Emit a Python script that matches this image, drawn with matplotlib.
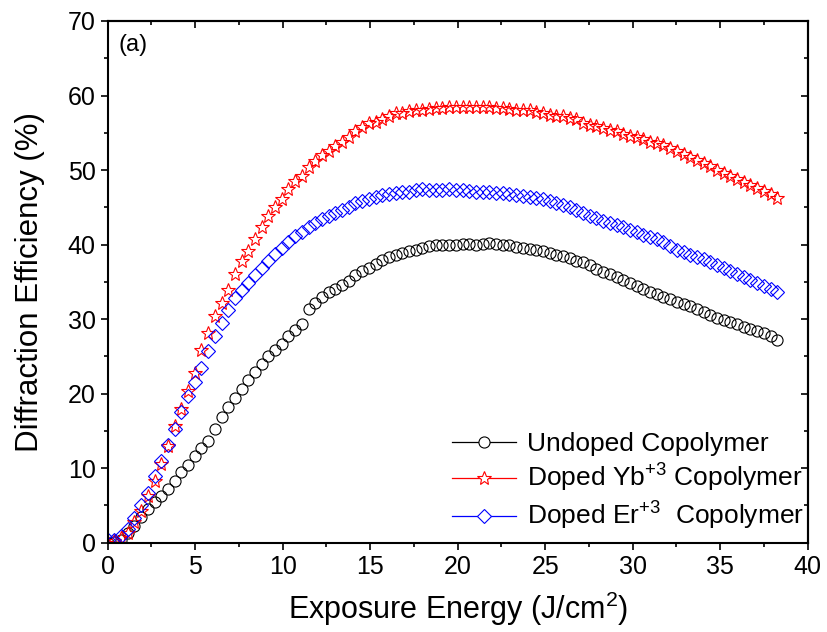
import matplotlib
matplotlib.use('Agg')
import matplotlib.pyplot as plt
from matplotlib.ticker import MultipleLocator
import numpy as np

plt.rcParams['font.family'] = ['Liberation Sans', 'DejaVu Sans']
plt.rcParams['mathtext.fontset'] = 'custom'
plt.rcParams['mathtext.rm'] = 'Liberation Sans'
plt.rcParams['mathtext.it'] = 'Liberation Sans:italic'

# exposure energy grid (J/cm^2), 101 samples from 0 to 38.26
energy_start = 0.0
energy_step = 0.3826
n_points = 101
energy = energy_start + energy_step * np.arange(n_points)

undoped = [
    0.0, 0.1, 0.4, 1.3, 2.3, 3.4, 4.5, 5.4, 6.3, 7.2,
    8.3, 9.5, 10.4, 11.6, 12.7, 13.7, 15.2, 16.9, 18.2, 19.4,
    20.6, 21.8, 22.9, 24.0, 25.0, 25.8, 26.6, 27.7, 28.6, 29.4,
    31.4, 32.1, 32.9, 33.6, 34.1, 34.6, 35.1, 35.9, 36.4, 36.8,
    37.4, 37.9, 38.3, 38.6, 38.9, 39.1, 39.3, 39.5, 39.8, 40.0,
    40.0, 40.0, 40.0, 40.1, 40.1, 40.0, 40.1, 40.2, 40.1, 40.0,
    39.9, 39.7, 39.6, 39.4, 39.3, 39.1, 38.9, 38.6, 38.4, 38.2,
    37.8, 37.6, 37.3, 36.7, 36.3, 36.0, 35.6, 35.2, 34.8, 34.4,
    34.0, 33.7, 33.4, 33.0, 32.7, 32.3, 32.0, 31.7, 31.4, 31.0,
    30.6, 30.2, 29.9, 29.6, 29.3, 29.0, 28.7, 28.4, 28.1, 27.7,
    27.2,
]

doped_yb = [
    0.0, 0.2, 0.6, 1.3, 2.8, 4.3, 6.2, 8.3, 10.5, 13.0,
    15.6, 17.9, 20.3, 22.8, 25.8, 28.2, 30.4, 32.2, 33.9, 36.0,
    37.8, 39.2, 40.8, 42.4, 43.9, 45.0, 46.1, 47.4, 48.5, 49.2,
    50.4, 51.2, 52.0, 52.6, 53.2, 53.7, 54.4, 55.2, 55.8, 56.3,
    56.5, 56.8, 57.3, 57.6, 57.7, 57.9, 58.0, 58.1, 58.2, 58.3,
    58.3, 58.4, 58.4, 58.4, 58.5, 58.4, 58.4, 58.4, 58.3, 58.3,
    58.2, 58.1, 58.1, 58.0, 57.8, 57.6, 57.4, 57.3, 57.2, 57.0,
    56.8, 56.3, 56.1, 55.9, 55.6, 55.4, 55.2, 54.9, 54.6, 54.4,
    54.1, 53.8, 53.6, 53.3, 52.9, 52.5, 52.2, 51.8, 51.4, 51.0,
    50.6, 50.0, 49.6, 49.2, 48.8, 48.4, 48.0, 47.6, 47.2, 46.8,
    46.3,
]

doped_er = [
    0.3, 0.4, 0.9, 1.9, 3.3, 5.1, 6.7, 9.0, 10.9, 13.1,
    15.2, 17.5, 19.7, 21.6, 23.5, 25.7, 27.8, 29.5, 31.2, 32.8,
    33.9, 34.8, 35.9, 36.9, 37.8, 38.7, 39.6, 40.4, 41.1, 41.7,
    42.3, 42.9, 43.4, 43.8, 44.2, 44.7, 45.1, 45.6, 45.9, 46.1,
    46.4, 46.7, 46.8, 46.9, 47.0, 47.1, 47.3, 47.4, 47.3, 47.3,
    47.3, 47.4, 47.3, 47.3, 47.2, 47.0, 47.0, 47.0, 46.9, 46.9,
    46.8, 46.7, 46.5, 46.4, 46.2, 46.1, 45.9, 45.6, 45.3, 45.0,
    44.6, 44.2, 43.9, 43.6, 43.2, 42.9, 42.6, 42.3, 42.0, 41.7,
    41.3, 41.0, 40.7, 40.3, 39.8, 39.3, 39.0, 38.6, 38.3, 38.0,
    37.6, 37.3, 36.9, 36.5, 36.1, 35.6, 35.2, 34.8, 34.4, 34.0,
    33.6,
]

labels = ['Undoped Copolymer',
          'Doped Yb$^{+3}$ Copolymer',
          'Doped Er$^{+3}$  Copolymer']

fig = plt.figure(figsize=(8.27, 6.32), dpi=100)
ax = fig.add_axes([0.1302, 0.1413, 0.8465, 0.8255])

ax.plot(energy, undoped, color='black', lw=0.8, ls='none', marker='o', ms=8,
        mfc='none', mec='black', mew=0.8, label=labels[0])
ax.plot(energy, doped_yb, color='red', lw=0.8, ls='none', marker='*', ms=10,
        mfc='none', mec='red', mew=0.8, label=labels[1])
ax.plot(energy, doped_er, color='blue', lw=0.8, ls='none', marker='D', ms=7.5,
        mfc='none', mec='blue', mew=0.8, label=labels[2])

ax.set_xlim(0, 40)
ax.set_ylim(0, 70)
ax.xaxis.set_major_locator(MultipleLocator(5))
ax.xaxis.set_minor_locator(MultipleLocator(2.5))
ax.yaxis.set_major_locator(MultipleLocator(10))
ax.yaxis.set_minor_locator(MultipleLocator(5))

for s in ax.spines.values():
    s.set_linewidth(1.5)
ax.tick_params(which='both', direction='out', width=1.2, labelsize=18,
               top=False, right=False)
ax.tick_params(which='major', length=5)
ax.tick_params(which='minor', length=3)

# inward ticks on the top and right spines
axr = ax.secondary_yaxis('right')
axr.yaxis.set_major_locator(MultipleLocator(10))
axr.yaxis.set_minor_locator(MultipleLocator(5))
axr.tick_params(which='both', direction='in', width=1.2, labelright=False)
axr.tick_params(which='major', length=5)
axr.tick_params(which='minor', length=3)
axr.spines['right'].set_linewidth(1.5)
axt = ax.secondary_xaxis('top')
axt.xaxis.set_major_locator(MultipleLocator(5))
axt.xaxis.set_minor_locator(MultipleLocator(2.5))
axt.tick_params(which='both', direction='in', width=1.2, labeltop=False)
axt.tick_params(which='major', length=5)
axt.tick_params(which='minor', length=3)
axt.spines['top'].set_linewidth(1.5)

ax.set_xlabel('Exposure Energy (J/cm$^2$)', fontsize=22, labelpad=8)
ax.set_ylabel('Diffraction Efficiency (%)', fontsize=22.5)
ax.yaxis.set_label_coords(-0.089, 0.5)
ax.text(0.015, 0.975, '(a)', transform=ax.transAxes, fontsize=17,
        ha='left', va='top')

# legend handles show a line through the marker
handles = []
for c, m, ms in [('black', 'o', 8), ('red', '*', 10), ('blue', 'D', 7.5)]:
    h, = ax.plot([], [], color=c, lw=0.9, marker=m, ms=ms, mfc='white',
                 mec=c, mew=0.8)
    handles.append(h)
ax.legend(handles, labels, loc='lower right', frameon=False, fontsize=19,
          handlelength=2.45, handletextpad=0.4, labelspacing=0.22,
          borderaxespad=0.0, bbox_to_anchor=(1.01, 0.0))

fig.savefig('out.png', dpi=100)
